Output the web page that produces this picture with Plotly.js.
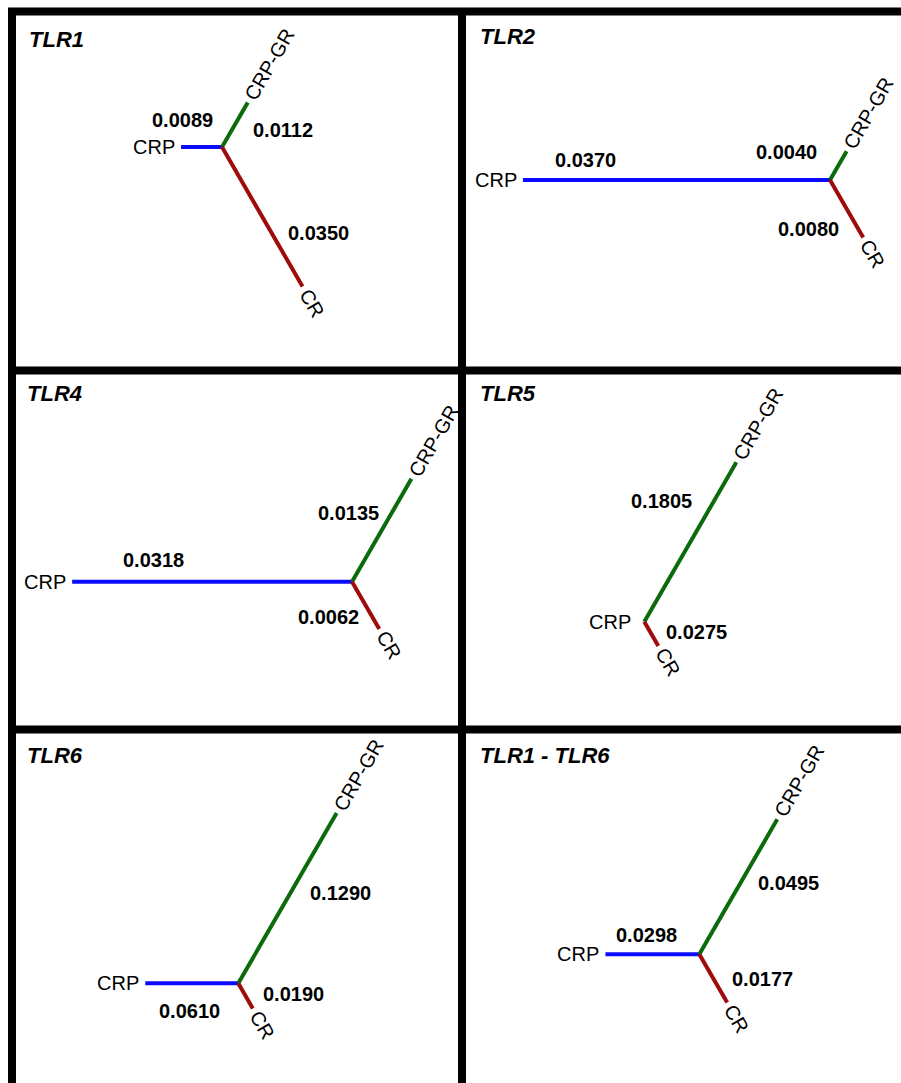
<!DOCTYPE html>
<html>
<head>
<meta charset="utf-8">
<script src="https://cdn.plot.ly/plotly-3.0.1.min.js"></script>
<style>html,body{margin:0;padding:0;background:#fff;}#chart{width:901px;height:1083px;}</style>
</head>
<body>
<div id="chart"></div>
<script>
// ---------- data ----------
const panelNames = ['TLR1', 'TLR2', 'TLR4', 'TLR5', 'TLR6', 'TLR1 - TLR6'];
const taxa = ['CRP', 'CRP-GR', 'CR'];
const crpLen   = [0.0089, 0.0370, 0.0318, 0.0000, 0.0610, 0.0298];
const crpgrLen = [0.0112, 0.0040, 0.0135, 0.1805, 0.1290, 0.0495];
const crLen    = [0.0350, 0.0080, 0.0062, 0.0275, 0.0190, 0.0177];

// ---------- layout / style settings ----------
const W = 901, H = 1083;
const colPx = [[16, 458], [466, 901]];
const rowPx = [[16, 367], [374, 726], [733, 1083]];
const nodePx = [[222, 147], [830, 180], [352, 581.7], [644.3, 621.7], [238.3, 983.3], [699.3, 954.3]];
const pxPerUnit = [4600, 8300, 8800, 1020, 1525, 3150];
const branchAngle = [180, 60, -60];           // degrees, per taxon
const branchColor = ['#0a0aff', '#0b6b0b', '#9e0b0b'];
// label offsets (screen px, dx right, dy down) from branch midpoints
const lenLabelOff = [
  [[-19, -27], [48.5, 5], [56, 16.5]],
  [[-91, -20], [-52, -14], [-38, 20]],
  [[-59, -22], [-33, -17], [-37, 12]],
  [null, [-29, -41], [45.5, -1.4]],
  [[-2.4, 27.4], [53, -5.6], [48, -1.7]],
  [[-5.5, -19.3], [50, -3.7], [49.3, 0.2]]
];
const crpGap = [4, 4, 4, 11, 4, 4];
const titlePx = [[27, 40], [478, 36], [25, 393], [478, 393], [25, 755], [478, 755]];
const FONT = 'Arial, "Liberation Sans", sans-serif';

const traces = [];
const annotations = [];
const layout = {
  width: W, height: H, autosize: false,
  margin: {l: 0, r: 0, t: 0, b: 0, pad: 0},
  paper_bgcolor: '#ffffff', plot_bgcolor: 'rgba(0,0,0,0)',
  showlegend: false, shapes: [], annotations: annotations
};

panelNames.forEach((name, i) => {
  const c = i % 2, r = Math.floor(i / 2);
  const [x0, x1] = colPx[c];
  const [y0, y1] = rowPx[r];
  const [nx, ny] = nodePx[i];
  const s = pxPerUnit[i];
  const k = i === 0 ? '' : String(i + 1);
  const xa = 'x' + k, ya = 'y' + k;
  layout['xaxis' + k] = {
    domain: [x0 / W, x1 / W], range: [(x0 - nx) / s, (x1 - nx) / s],
    visible: false, fixedrange: true, anchor: ya
  };
  layout['yaxis' + k] = {
    domain: [1 - y1 / H, 1 - y0 / H], range: [(ny - y1) / s, (ny - y0) / s],
    visible: false, fixedrange: true, anchor: xa
  };
  const lens = [crpLen[i], crpgrLen[i], crLen[i]];
  taxa.forEach((t, j) => {
    const a = branchAngle[j] * Math.PI / 180;
    const L = lens[j];
    const ex = L * Math.cos(a), ey = L * Math.sin(a);
    traces.push({
      type: 'scatter', mode: 'lines', x: [0, ex], y: [0, ey],
      xaxis: xa, yaxis: ya, hoverinfo: 'skip',
      line: {color: branchColor[j], width: 4}
    });
    // tip label
    const tip = {x: ex, y: ey, xref: xa, yref: ya, text: t, showarrow: false,
      font: {family: FONT, size: 20, color: '#000'}};
    if (j === 0) {
      Object.assign(tip, {xanchor: 'right', yanchor: 'middle', xshift: -crpGap[i]});
    } else {
      const d = j === 1 ? 44 : 19;
      Object.assign(tip, {xanchor: 'center', yanchor: 'middle',
        textangle: -branchAngle[j],
        xshift: d * Math.cos(a), yshift: d * Math.sin(a)});
    }
    annotations.push(tip);
    // branch length label
    const off = lenLabelOff[i][j];
    if (off && L > 0) {
      annotations.push({x: ex / 2, y: ey / 2, xref: xa, yref: ya,
        text: '<b>' + L.toFixed(4) + '</b>', showarrow: false,
        xanchor: 'center', yanchor: 'middle', xshift: off[0], yshift: -off[1],
        font: {family: FONT, size: 20, color: '#000'}});
    }
  });
  annotations.push({x: titlePx[i][0] / W, y: 1 - titlePx[i][1] / H, xref: 'paper', yref: 'paper',
    text: '<b><i>' + name + '</i></b>', showarrow: false, xanchor: 'left', yanchor: 'middle',
    font: {family: FONT, size: 22, color: '#000'}});
});

// frame lines
const bw = 8;
const line = (xa, ya, xb, yb) => ({type: 'line', xref: 'paper', yref: 'paper', layer: 'above',
  x0: xa / W, y0: 1 - ya / H, x1: xb / W, y1: 1 - yb / H, line: {color: '#000', width: bw}});
layout.shapes.push(line(8, 11.5, W, 11.5));
layout.shapes.push(line(12, 8, 12, H));
layout.shapes.push(line(462, 8, 462, H));
layout.shapes.push(line(8, 370.5, W, 370.5));
layout.shapes.push(line(8, 729.5, W, 729.5));

Plotly.newPlot('chart', traces, layout, {staticPlot: true, displayModeBar: false});
</script>
</body>
</html>
